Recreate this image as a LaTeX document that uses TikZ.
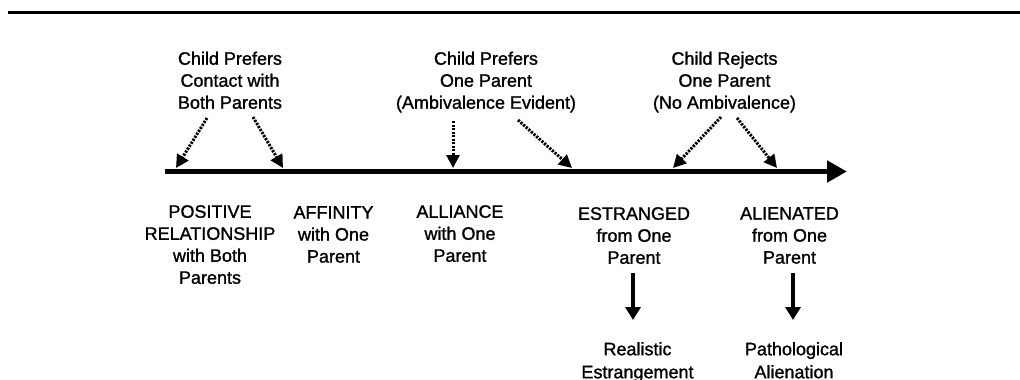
\documentclass[tikz,border=0pt]{standalone}
\usepackage{fontspec}
\setmainfont{Liberation Sans}
\newfontfamily\lblfont{Liberation Sans}[FakeBold=1.2]
\usetikzlibrary{arrows.meta}
\begin{document}
\begin{tikzpicture}[x=1pt,y=-1pt,
  lbl/.style={align=center, inner sep=0pt, anchor=north, font=\lblfont\fontsize{18}{22}\selectfont},
  dotarrow/.style={line width=3pt, dash pattern=on 2.2pt off 1.3pt, -{Triangle[length=13pt,width=13pt]}},
  solidarrow/.style={line width=3.3pt, -{Triangle[length=13pt,width=15pt]}},
  axisline/.style={line width=5pt, -{Triangle[length=20pt,width=21pt]}},
  rule/.style={line width=2.4pt}
]
\useasboundingbox (0,0) rectangle (1020,380);
\fill[white] (0,0) rectangle (1020,380);

% top rule
\coordinate (rl) at (8,12.5);
\coordinate (rr) at (1020,12.5);
\draw[rule] (rl) -- (rr);

% axis
\coordinate (axl) at (165,171.5);
\coordinate (axr) at (847,171.5);
\draw[axisline] (axl) -- (axr);

% top labels
\node[lbl] (tA) at (230,51.5) {Child Prefers\\Contact with\\Both Parents};
\node[lbl] (tB) at (486,51.5) {Child Prefers\\One Parent\\(Ambivalence Evident)};
\node[lbl] (tC) at (724.5,51.5) {Child Rejects\\One Parent\\(No Ambivalence)};

% dotted arrows
\coordinate (s1) at (207,118); \coordinate (e1) at (176,168);
\coordinate (s2) at (253,117); \coordinate (e2) at (283,168);
\coordinate (s3) at (453,121); \coordinate (e3) at (453,168);
\coordinate (s4) at (518,120); \coordinate (e4) at (572,168);
\coordinate (s5) at (721,117); \coordinate (e5) at (673,168);
\coordinate (s6) at (737,118); \coordinate (e6) at (777,168);
\draw[dotarrow] (s1) -- (e1);
\draw[dotarrow] (s2) -- (e2);
\draw[dotarrow] (s3) -- (e3);
\draw[dotarrow] (s4) -- (e4);
\draw[dotarrow] (s5) -- (e5);
\draw[dotarrow] (s6) -- (e6);

% bottom labels
\node[lbl] (bPos) at (210,205) {POSITIVE\\RELATIONSHIP\\with Both\\Parents};
\node[lbl] (bAff) at (333.5,206) {AFFINITY\\with One\\Parent};
\node[lbl] (bAll) at (460,205) {ALLIANCE\\with One\\Parent};
\node[lbl] (bEst) at (634,207) {ESTRANGED\\from One\\Parent};
\node[lbl] (bAli) at (789.5,207) {ALIENATED\\from One\\Parent};
\node[lbl, font=\lblfont\fontsize{18}{23}\selectfont] (bReal) at (637.5,342) {Realistic\\Estrangement};
\node[lbl, font=\lblfont\fontsize{18}{23}\selectfont] (bPath) at (794,342) {Pathological\\Alienation};

% solid arrows
\coordinate (u1) at (633,273); \coordinate (v1) at (633,320);
\coordinate (u2) at (793,273); \coordinate (v2) at (793,320);
\draw[solidarrow] (u1) -- (v1);
\draw[solidarrow] (u2) -- (v2);
\end{tikzpicture}
\end{document}
